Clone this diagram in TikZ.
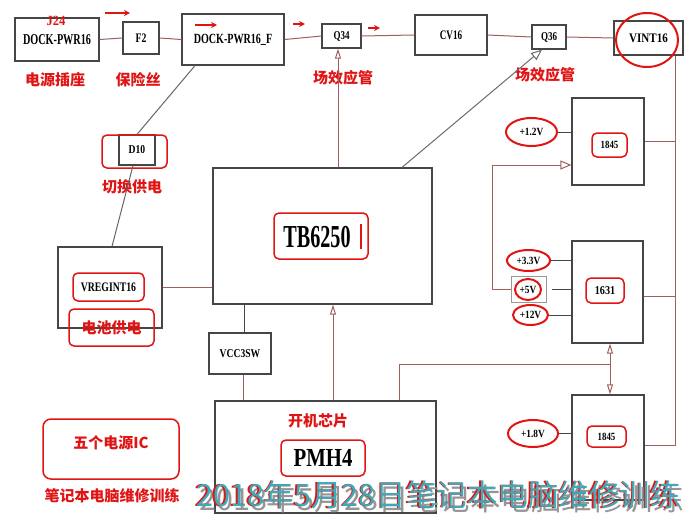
\documentclass[tikz,border=0pt]{standalone}
\usepackage{fontspec}
\setmainfont{Liberation Serif}
\newfontfamily\cjk{Noto Sans CJK SC}
\usetikzlibrary{shapes.geometric,arrows.meta}
\definecolor{boxc}{RGB}{70,70,70}
\definecolor{wirec}{RGB}{160,95,95}
\definecolor{redc}{RGB}{225,20,20}
\definecolor{wmteal}{RGB}{60,170,185}
\definecolor{wmshadow}{RGB}{150,150,150}
\newcommand{\lt}[3]{\scalebox{#2}[1]{\fontsize{#1}{#1}\selectfont\bfseries #3}}
\newcommand{\zh}[1]{{\cjk\bfseries\fontsize{15}{15}\selectfont #1}}
\newcommand{\wmtext}{{\cjk\fontsize{30.5}{31}\selectfont 2018年5月28日笔记本电脑维修训练}}
\tikzset{
  box/.style={draw=boxc, line width=1.2pt, inner sep=0pt},
  rbox/.style={draw=redc, line width=1.5pt, rounded corners=5pt, inner sep=0pt},
  ell/.style={ellipse, draw=redc, line width=2pt, inner sep=0pt},
  wire/.style={draw=wirec, line width=1pt},
  dark/.style={draw=boxc, line width=1pt},
  lbl/.style={text=redc, inner sep=0pt},
  tipo/.style={-{Triangle[open,length=11pt,width=9pt]}},
  tips/.style={-{Triangle[open,length=10pt,width=6pt]}},
  redarr/.style={draw=redc, line width=1.5pt, -{Stealth[length=6pt,width=6pt]}}
}
\begin{document}
\begin{tikzpicture}[x=1pt,y=-1pt]
\useasboundingbox[fill=white] (0,0) rectangle (691,522);
% top row
\node[box, minimum width=84pt, minimum height=43pt] (dock) at (57,39.5) {\lt{15}{0.68}{DOCK-PWR16}};
\node[lbl] (j24) at (56,21) {\lt{14}{0.9}{J24}};
\node[box, minimum width=36pt, minimum height=32pt] (f2) at (141,38) {\lt{13}{0.75}{F2}};
\node[box, minimum width=102pt, minimum height=51pt] (dockf) at (233,39.5) {\lt{14}{0.72}{DOCK-PWR16\_F}};
\node[box, minimum width=39pt, minimum height=24pt] (q34) at (341.5,36) {\lt{12}{0.75}{Q34}};
\node[box, minimum width=72pt, minimum height=40pt] (cv16) at (451,35) {\lt{13}{0.7}{CV16}};
\node[box, minimum width=34pt, minimum height=24pt] (q36) at (549,37) {\lt{12}{0.75}{Q36}};
\node[box, minimum width=69pt, minimum height=34pt] (vint) at (648.5,38) {\lt{13}{0.85}{VINT16}};
\node[ell, minimum width=62pt, minimum height=54pt] (vintell) at (647,40) {};
% labels
\node[lbl] (l1) at (55,80) {\zh{电源插座}};
\node[lbl] (l2) at (138,80) {\zh{保险丝}};
\node[lbl] (l3) at (343,78) {\zh{场效应管}};
\node[lbl] (l4) at (545,75) {\zh{场效应管}};
\node[lbl] (l5) at (132,187) {\zh{切换供电}};
% red arrows
\draw[redarr] (105,13) -- (130,13);
\draw[redarr] (195,25) -- (217,25);
\draw[redarr] (293,24) -- (305,24);
\draw[redarr] (368,28) -- (380,28);
% D10
\node[box, minimum width=36pt, minimum height=30pt] (d10) at (137,150) {\lt{12}{0.8}{D10}};
\node[rbox, minimum width=65pt, minimum height=33pt] (d10r) at (134.5,151.5) {};
% TB6250
\node[box, minimum width=219pt, minimum height=136pt] (tb) at (322.5,236) {};
\node[rbox, minimum width=94pt, minimum height=46pt] (tbr) at (321,236) {};
\node[inner sep=0pt] (tbt) at (317,237) {\lt{32}{0.63}{TB6250}};
\draw[draw=redc, line width=2pt] ([xshift=40pt,yshift=12pt]tbr.center) -- ([xshift=40pt,yshift=-13pt]tbr.center);
% VREGINT16
\node[box, minimum width=104pt, minimum height=81pt] (vreg) at (110,287.5) {};
\node[rbox, minimum width=71pt, minimum height=28pt] (vregr) at (108.5,287) {\lt{13}{0.75}{VREGINT16}};
\node[rbox, minimum width=85pt, minimum height=37pt] (bat) at (111.5,327.5) {\zh{\textcolor{redc}{电池供电}}};
% VCC3SW
\node[box, minimum width=62pt, minimum height=41pt] (vcc) at (240,353.5) {\lt{12}{0.8}{VCC3SW}};
% PMH4
\node[box, minimum width=221pt, minimum height=112pt] (pmh) at (325.5,457) {};
\node[lbl] (l6) at (318,421) {\zh{开机芯片}};
\node[rbox, minimum width=84pt, minimum height=36pt] (pmhr) at (323,458) {\lt{26}{0.8}{PMH4}};
% five IC
\node[rbox, rounded corners=8pt, minimum width=136pt, minimum height=60pt] (five) at (111,449) {};
\node[lbl] (l7) at (111,443) {\zh{五个电源IC}};
\node[lbl] (l8) at (112,496) {\zh{笔记本电脑维修训练}};
% right column
\node[box, minimum width=72pt, minimum height=87pt] (u1845) at (608,141.5) {};
\node[rbox, minimum width=35pt, minimum height=24pt] (u1845r) at (609.5,145) {\lt{11}{0.8}{1845}};
\node[ell, minimum width=51pt, minimum height=28pt] (v12) at (531.5,132) {\lt{11}{0.85}{+1.2V}};
\node[box, minimum width=71pt, minimum height=102pt] (ic1631) at (607.5,292) {};
\node[rbox, minimum width=38pt, minimum height=25pt] (icr) at (605,290.5) {\lt{12}{0.85}{1631}};
\node[ell, minimum width=43pt, minimum height=21pt] (v33) at (528.5,260.5) {\lt{11}{0.85}{+3.3V}};
\node[draw=gray!80, line width=1pt, minimum width=35pt, minimum height=26pt, inner sep=0pt] (b5) at (528.5,289) {};
\node[ell, minimum width=26pt, minimum height=21pt] (v5) at (528,289.5) {\lt{11}{0.85}{+5V}};
\node[ell, minimum width=35pt, minimum height=20pt] (v12b) at (530.5,315) {\lt{11}{0.85}{+12V}};
\node[box, minimum width=72pt, minimum height=105pt] (l1845) at (608,447.5) {};
\node[rbox, minimum width=39pt, minimum height=21pt] (l1845r) at (606.5,436.5) {\lt{11}{0.8}{1845}};
\node[ell, minimum width=50pt, minimum height=27pt] (v18) at (533,433.5) {\lt{11}{0.85}{+1.8V}};
% connectors top row
\draw[wire] (dock.east) -- (f2.west);
\draw[wire] (f2.east) -- (dockf.west);
\draw[wire] (dockf.east) -- (q34.west);
\draw[wire] (q34.east) -- (cv16.west);
\draw[wire] (cv16.east) -- (q36.west);
\draw[wire] (q36.east) -- (vint.west);
% D10 path
\draw[draw=gray!80!black, line width=1pt] ([xshift=-38pt]dockf.south) -- (d10.north);
\draw[draw=gray!80!black, line width=1pt] ([xshift=-4pt]d10.south) -- ([xshift=2pt]vreg.north);
\draw[wire] (vreg.east) -- (vreg.east -| tb.west);
% TB6250 connections
\draw[wire, tips] ([xshift=15.5pt]tb.north) -- ([xshift=-3.5pt]q34.south);
\draw[draw=gray!85!black, line width=1pt, tipo] ([xshift=79.5pt]tb.north) -- ([xshift=-7pt]q36.south);
\coordinate (va) at ([xshift=4pt]vcc.north);
\draw[dark] (va) -- (va |- tb.south);
\coordinate (vb) at ([xshift=3pt]vcc.south);
\draw[wire] (vb) -- (vb |- pmh.north);
\coordinate (pa) at ([xshift=7.5pt]pmh.north);
\draw[wire, tips] (pa) -- (pa |- tb.south);
\coordinate (pb) at ([xshift=73.5pt]pmh.north);
\coordinate (jn) at (610,364);
\draw[wire] (pb) |- (jn);
\draw[wire, tips] (jn) -- (jn |- ic1631.south);
\draw[wire, tips] (jn) -- (jn |- l1845.north);
% right rail
\coordinate (rt) at ([xshift=26.5pt]vint.south);
\draw[wire] (rt) |- ([yshift=2pt]l1845.east);
\draw[wire] (u1845.east) -- (u1845.east -| rt);
\draw[wire] ([yshift=-4pt]ic1631.east) -- ([yshift=-4pt]ic1631.east -| rt);
% voltage lines
\draw[dark] (v12.east) -- (u1845.west |- v12.east);
\draw[dark] (v33.east) -- (ic1631.west |- v33.east);
\draw[dark] ([xshift=5pt]b5.east) -- (ic1631.west |- b5.east);
\draw[dark] (v12b.east) -- (ic1631.west |- v12b.east);
\draw[dark] (v18.east) -- (l1845.west |- v18.east);
\coordinate (tl) at (492,165);
\coordinate (ua) at ([yshift=-23.5pt]u1845.west);
\draw[wire, tipo] (b5.west) -| (tl) -- (ua);
% watermark (one text with shadow and fringe)
\node[inner sep=0pt] (wm) at (438.5,497) {%
  \makebox[0pt][l]{\hspace{3pt}\raisebox{-3.5pt}{\textcolor{wmshadow}{\wmtext}}}%
  \makebox[0pt][l]{\hspace{-1.5pt}\textcolor{redc}{\wmtext}}%
  \textcolor{wmteal}{\wmtext}};
\end{tikzpicture}
\end{document}
